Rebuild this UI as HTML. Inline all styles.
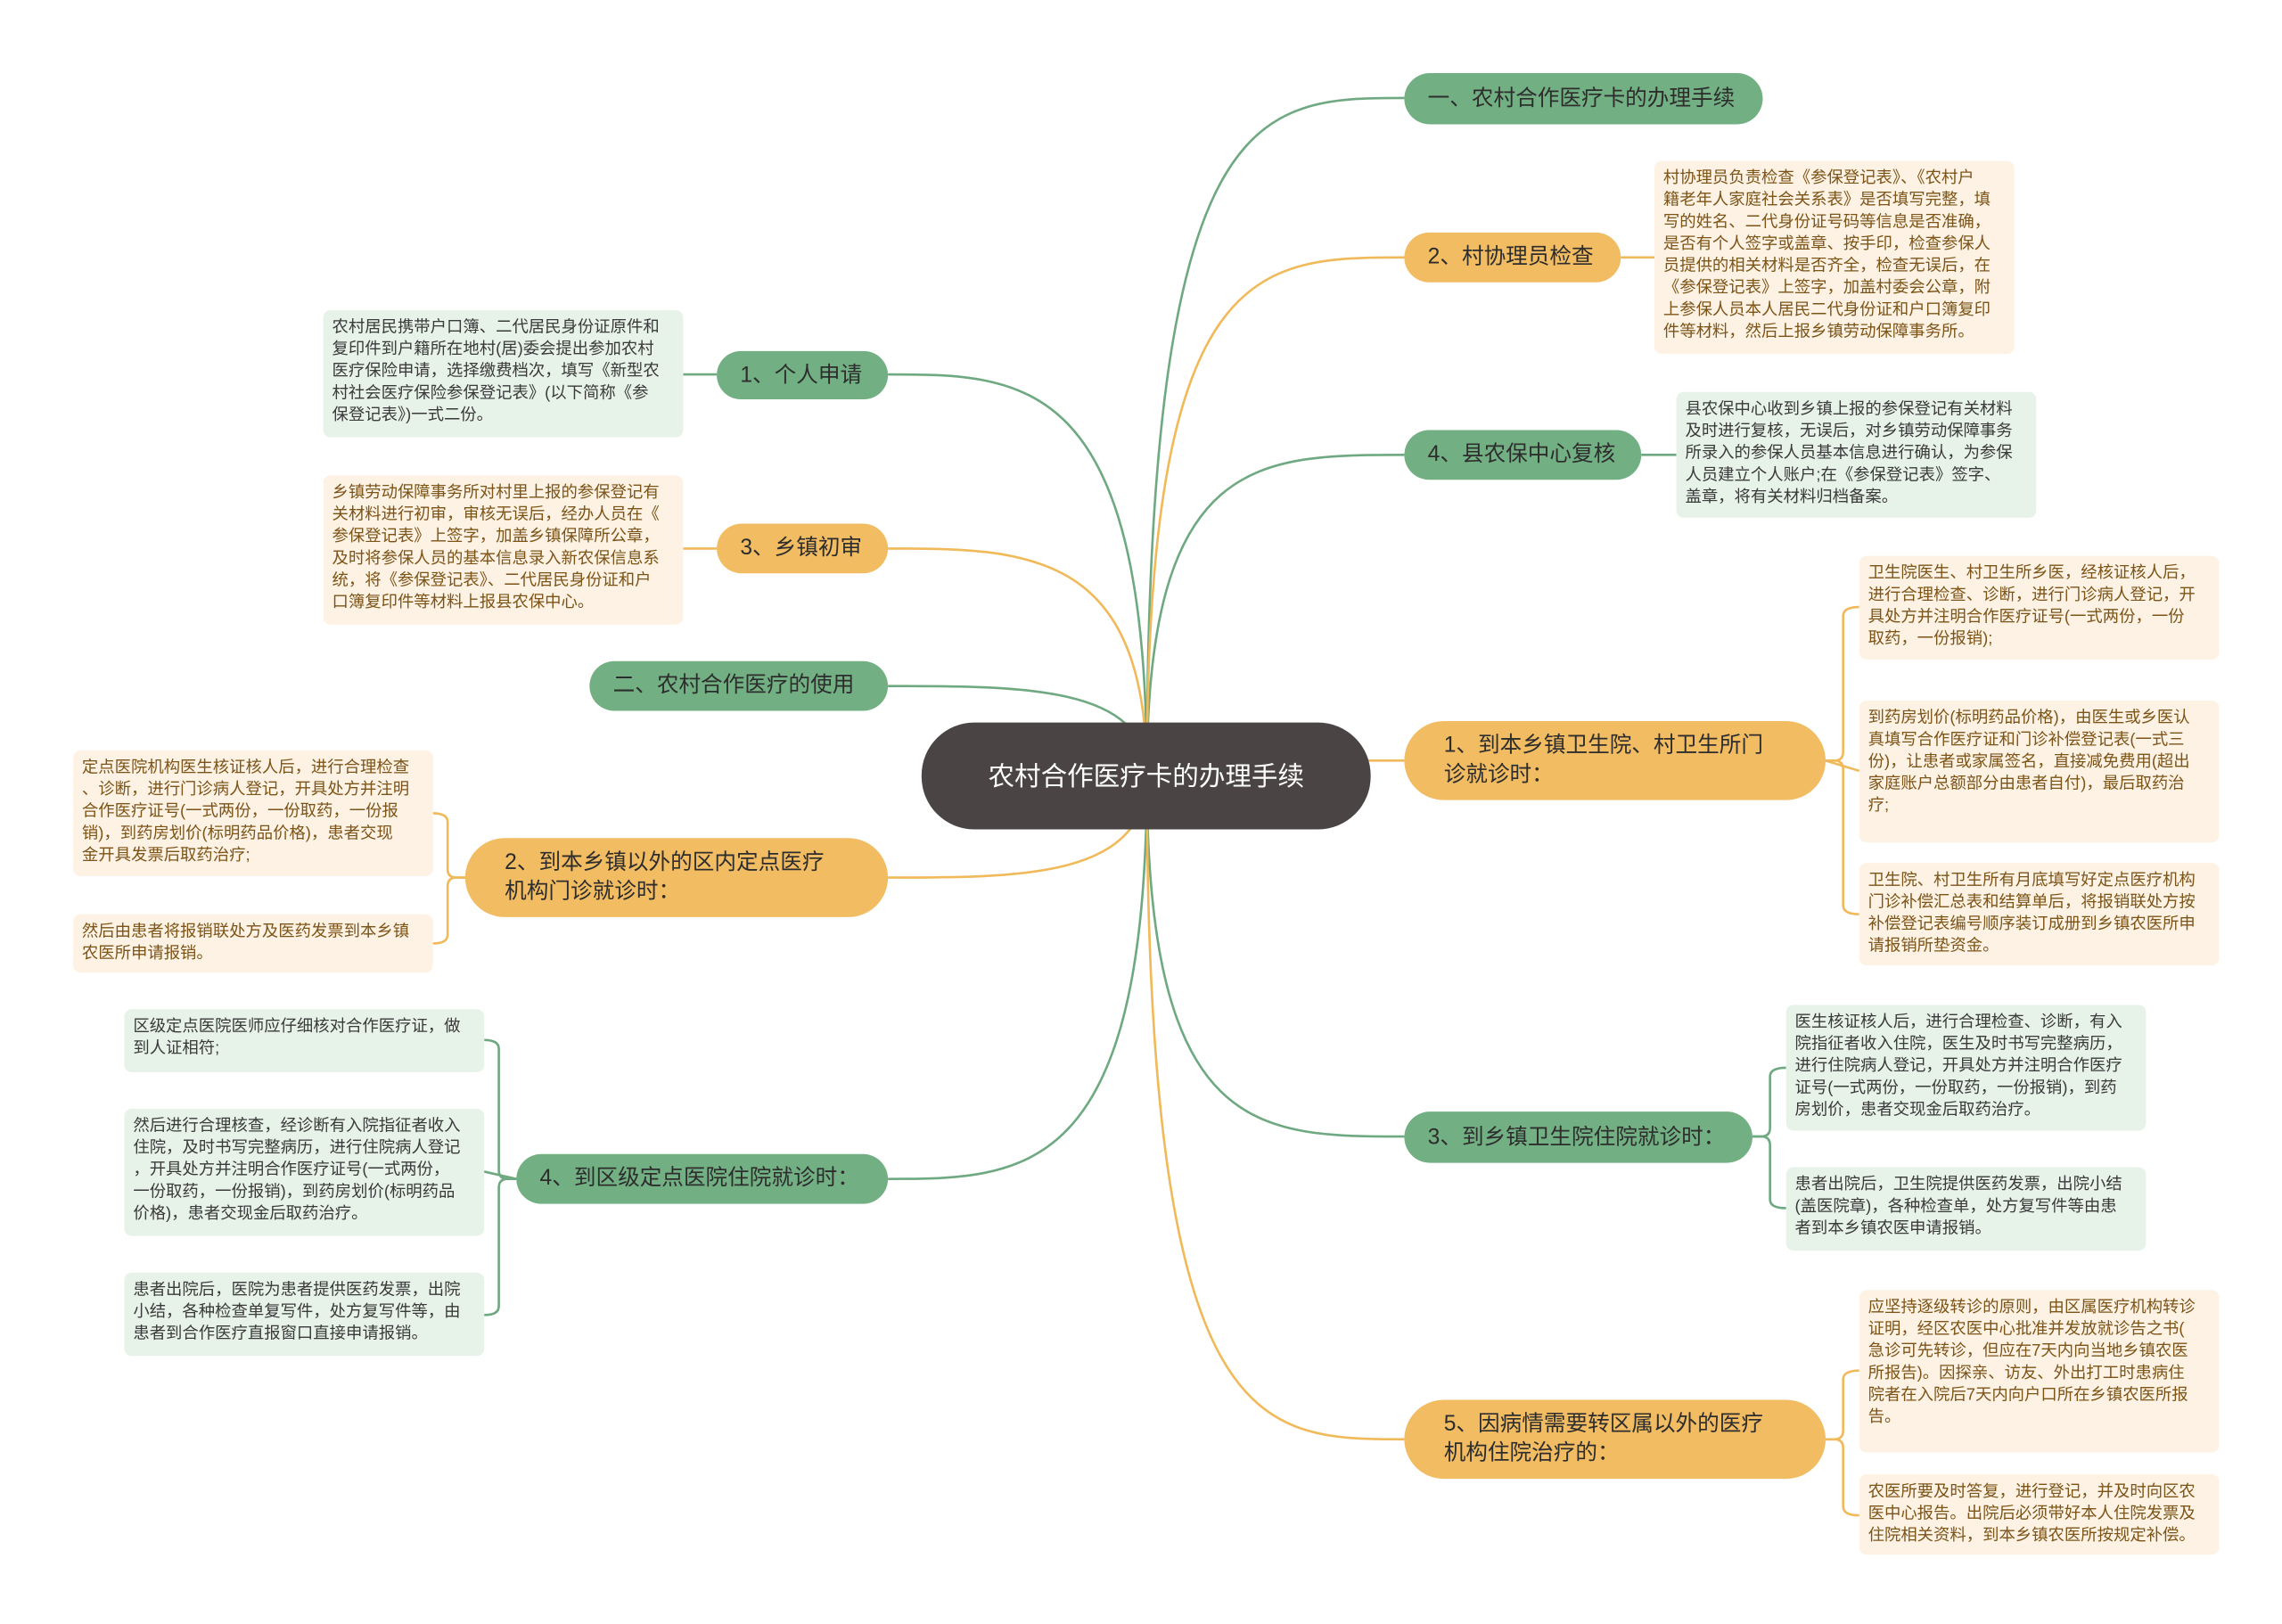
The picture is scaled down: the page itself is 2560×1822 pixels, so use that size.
<!DOCTYPE html>
<html><head><meta charset="utf-8"><style>
html,body{margin:0;padding:0;background:#fff;}
body{width:2560px;height:1821px;overflow:hidden;position:relative;}
#c{position:absolute;left:0;top:0;width:1560px;height:1110px;transform:scale(1.64103);transform-origin:0 0;font-family:"Liberation Sans","Noto Sans CJK SC",sans-serif;}
.n{position:absolute;box-sizing:border-box;border-radius:18px;color:#2d2d2d;font-size:15px;line-height:20px;display:flex;align-items:center;padding:0 16px;white-space:nowrap;}
.g{background:#72b083;}
.o{background:#f2bc62;}
.b{position:absolute;box-sizing:border-box;border-radius:5px;font-size:11.2px;line-height:15px;padding:5px 6px;white-space:nowrap;}
.bo{background:#fdf2e3;color:#7d5418;}
.bg{background:#e7f2e9;color:#3a3a3a;}
svg{position:absolute;left:0;top:0;}
</style></head><body><div id="c">
<svg width="1560" height="1110" fill="none" stroke-width="1.6">
<g stroke="#6fa981">
<path d="M784,530 C784,67 860,67 960,67"/>
<path d="M784,530 C784,311 860,311 960,311"/>
<path d="M784,530 C784,777 860,777 960,777"/>
<path d="M784,530 C784,256 700,256 607,256"/>
<path d="M784,530 C784,469 700,469 607,469"/>
<path d="M784,530 C784,806 700,806 607,806"/>
<path d="M1122,311 L1146,311"/>
<path d="M490,256 L467,256"/>
<path d="M1198,777 H1204 Q1210,777 1210,771 V736 Q1210,730 1221,730"/>
<path d="M1198,777 H1204 Q1210,777 1210,783 V820 Q1210,826 1221,826"/>
<path d="M353,806 H347 Q341,806 341,800 V717 Q341,711 331,711"/>
<path d="M353,806 L331,801"/>
<path d="M353,806 H347 Q341,806 341,812 V893 Q341,899 331,899"/>
</g>
<g stroke="#f0b95a">
<path d="M784,530 C784,176 860,176 960,176"/>
<path d="M784,530 C784,520 860,520 960,520"/>
<path d="M784,530 C784,984 860,984 960,984"/>
<path d="M784,530 C784,375 700,375 607,375"/>
<path d="M784,530 C784,600 700,600 607,600"/>
<path d="M1108,176 L1131,176"/>
<path d="M490,375 L467,375"/>
<path d="M1248,520 H1254 Q1260,520 1260,514 V421 Q1260,415 1271,415"/>
<path d="M1248,520 L1271,527"/>
<path d="M1248,520 H1254 Q1260,520 1260,526 V619 Q1260,625 1271,625"/>
<path d="M1248,984 H1254 Q1260,984 1260,978 V943 Q1260,937 1271,937"/>
<path d="M1248,984 H1254 Q1260,984 1260,990 V1030 Q1260,1036 1271,1036"/>
<path d="M318,600 H312 Q306,600 306,594 V562 Q306,556 296,556"/>
<path d="M318,600 H312 Q306,600 306,606 V639 Q306,645 296,645"/>
</g>
</svg>

<div class="n" style="left:630px;top:494px;width:307px;height:73px;background:#4a4544;color:#fff;border-radius:36px;font-size:18px;line-height:26px;justify-content:center;text-align:center;white-space:normal;padding:0 40px;">农村合作医疗卡的办理手续</div>

<div class="n g" style="left:960px;top:50px;width:245px;height:35px;">一、农村合作医疗卡的办理手续</div>
<div class="n o" style="left:960px;top:159px;width:148px;height:34px;">2、村协理员检查</div>
<div class="n g" style="left:960px;top:294px;width:162px;height:34px;">4、县农保中心复核</div>
<div class="n o" style="left:960px;top:493px;width:288px;height:54px;border-radius:27px;padding-left:27px;">1、到本乡镇卫生院、村卫生所门<br>诊就诊时：</div>
<div class="n g" style="left:960px;top:760px;width:238px;height:35px;">3、到乡镇卫生院住院就诊时：</div>
<div class="n o" style="left:960px;top:957px;width:288px;height:54px;border-radius:27px;padding-left:27px;">5、因病情需要转区属以外的医疗<br>机构住院治疗的：</div>

<div class="n g" style="left:490px;top:240px;width:117px;height:33px;">1、个人申请</div>
<div class="n o" style="left:490px;top:358px;width:117px;height:34px;">3、乡镇初审</div>
<div class="n g" style="left:403px;top:452px;width:204px;height:34px;">二、农村合作医疗的使用</div>
<div class="n o" style="left:318px;top:573px;width:289px;height:54px;border-radius:27px;padding-left:27px;">2、到本乡镇以外的区内定点医疗<br>机构门诊就诊时：</div>
<div class="n g" style="left:353px;top:789px;width:254px;height:34px;">4、到区级定点医院住院就诊时：</div>

<div class="b bo" style="left:1131px;top:110px;width:246px;height:132px;">村协理员负责检查《参保登记表》、《农村户<br>籍老年人家庭社会关系表》是否填写完整，填<br>写的姓名、二代身份证号码等信息是否准确，<br>是否有个人签字或盖章、按手印，检查参保人<br>员提供的相关材料是否齐全，检查无误后，在<br>《参保登记表》上签字，加盖村委会公章，附<br>上参保人员本人居民二代身份证和户口簿复印<br>件等材料，然后上报乡镇劳动保障事务所。</div>
<div class="b bg" style="left:1146px;top:268px;width:246px;height:86px;">县农保中心收到乡镇上报的参保登记有关材料<br>及时进行复核，无误后，对乡镇劳动保障事务<br>所录入的参保人员基本信息进行确认，为参保<br>人员建立个人账户;在《参保登记表》签字、<br>盖章，将有关材料归档备案。</div>
<div class="b bo" style="left:1271px;top:380px;width:246px;height:71px;">卫生院医生、村卫生所乡医，经核证核人后，<br>进行合理检查、诊断，进行门诊病人登记，开<br>具处方并注明合作医疗证号(一式两份，一份<br>取药，一份报销);</div>
<div class="b bo" style="left:1271px;top:479px;width:246px;height:97px;">到药房划价(标明药品价格)，由医生或乡医认<br>真填写合作医疗证和门诊补偿登记表(一式三<br>份)，让患者或家属签名，直接减免费用(超出<br>家庭账户总额部分由患者自付)，最后取药治<br>疗;</div>
<div class="b bo" style="left:1271px;top:590px;width:246px;height:70px;">卫生院、村卫生所有月底填写好定点医疗机构<br>门诊补偿汇总表和结算单后，将报销联处方按<br>补偿登记表编号顺序装订成册到乡镇农医所申<br>请报销所垫资金。</div>
<div class="b bg" style="left:1221px;top:687px;width:246px;height:86px;">医生核证核人后，进行合理检查、诊断，有入<br>院指征者收入住院，医生及时书写完整病历，<br>进行住院病人登记，开具处方并注明合作医疗<br>证号(一式两份，一份取药，一份报销)，到药<br>房划价，患者交现金后取药治疗。</div>
<div class="b bg" style="left:1221px;top:798px;width:246px;height:57px;">患者出院后，卫生院提供医药发票，出院小结<br>(盖医院章)，各种检查单，处方复写件等由患<br>者到本乡镇农医申请报销。</div>
<div class="b bo" style="left:1271px;top:882px;width:246px;height:111px;">应坚持逐级转诊的原则，由区属医疗机构转诊<br>证明，经区农医中心批准并发放就诊告之书(<br>急诊可先转诊，但应在7天内向当地乡镇农医<br>所报告)。因探亲、访友、外出打工时患病住<br>院者在入院后7天内向户口所在乡镇农医所报<br>告。</div>
<div class="b bo" style="left:1271px;top:1008px;width:246px;height:55px;">农医所要及时答复，进行登记，并及时向区农<br>医中心报告。出院后必须带好本人住院发票及<br>住院相关资料，到本乡镇农医所按规定补偿。</div>

<div class="b bg" style="left:221px;top:212px;width:246px;height:87px;">农村居民携带户口簿、二代居民身份证原件和<br>复印件到户籍所在地村(居)委会提出参加农村<br>医疗保险申请，选择缴费档次，填写《新型农<br>村社会医疗保险参保登记表》(以下简称《参<br>保登记表》)一式二份。</div>
<div class="b bo" style="left:221px;top:325px;width:246px;height:102px;">乡镇劳动保障事务所对村里上报的参保登记有<br>关材料进行初审，审核无误后，经办人员在《<br>参保登记表》上签字，加盖乡镇保障所公章，<br>及时将参保人员的基本信息录入新农保信息系<br>统，将《参保登记表》、二代居民身份证和户<br>口簿复印件等材料上报县农保中心。</div>
<div class="b bo" style="left:50px;top:513px;width:246px;height:86px;">定点医院机构医生核证核人后，进行合理检查<br>、诊断，进行门诊病人登记，开具处方并注明<br>合作医疗证号(一式两份，一份取药，一份报<br>销)，到药房划价(标明药品价格)，患者交现<br>金开具发票后取药治疗;</div>
<div class="b bo" style="left:50px;top:625px;width:246px;height:40px;">然后由患者将报销联处方及医药发票到本乡镇<br>农医所申请报销。</div>
<div class="b bg" style="left:85px;top:690px;width:246px;height:43px;">区级定点医院医师应仔细核对合作医疗证，做<br>到人证相符;</div>
<div class="b bg" style="left:85px;top:758px;width:246px;height:87px;">然后进行合理核查，经诊断有入院指征者收入<br>住院，及时书写完整病历，进行住院病人登记<br>，开具处方并注明合作医疗证号(一式两份，<br>一份取药，一份报销)，到药房划价(标明药品<br>价格)，患者交现金后取药治疗。</div>
<div class="b bg" style="left:85px;top:870px;width:246px;height:57px;">患者出院后，医院为患者提供医药发票，出院<br>小结，各种检查单复写件，处方复写件等，由<br>患者到合作医疗直报窗口直接申请报销。</div>
</div></body></html>
